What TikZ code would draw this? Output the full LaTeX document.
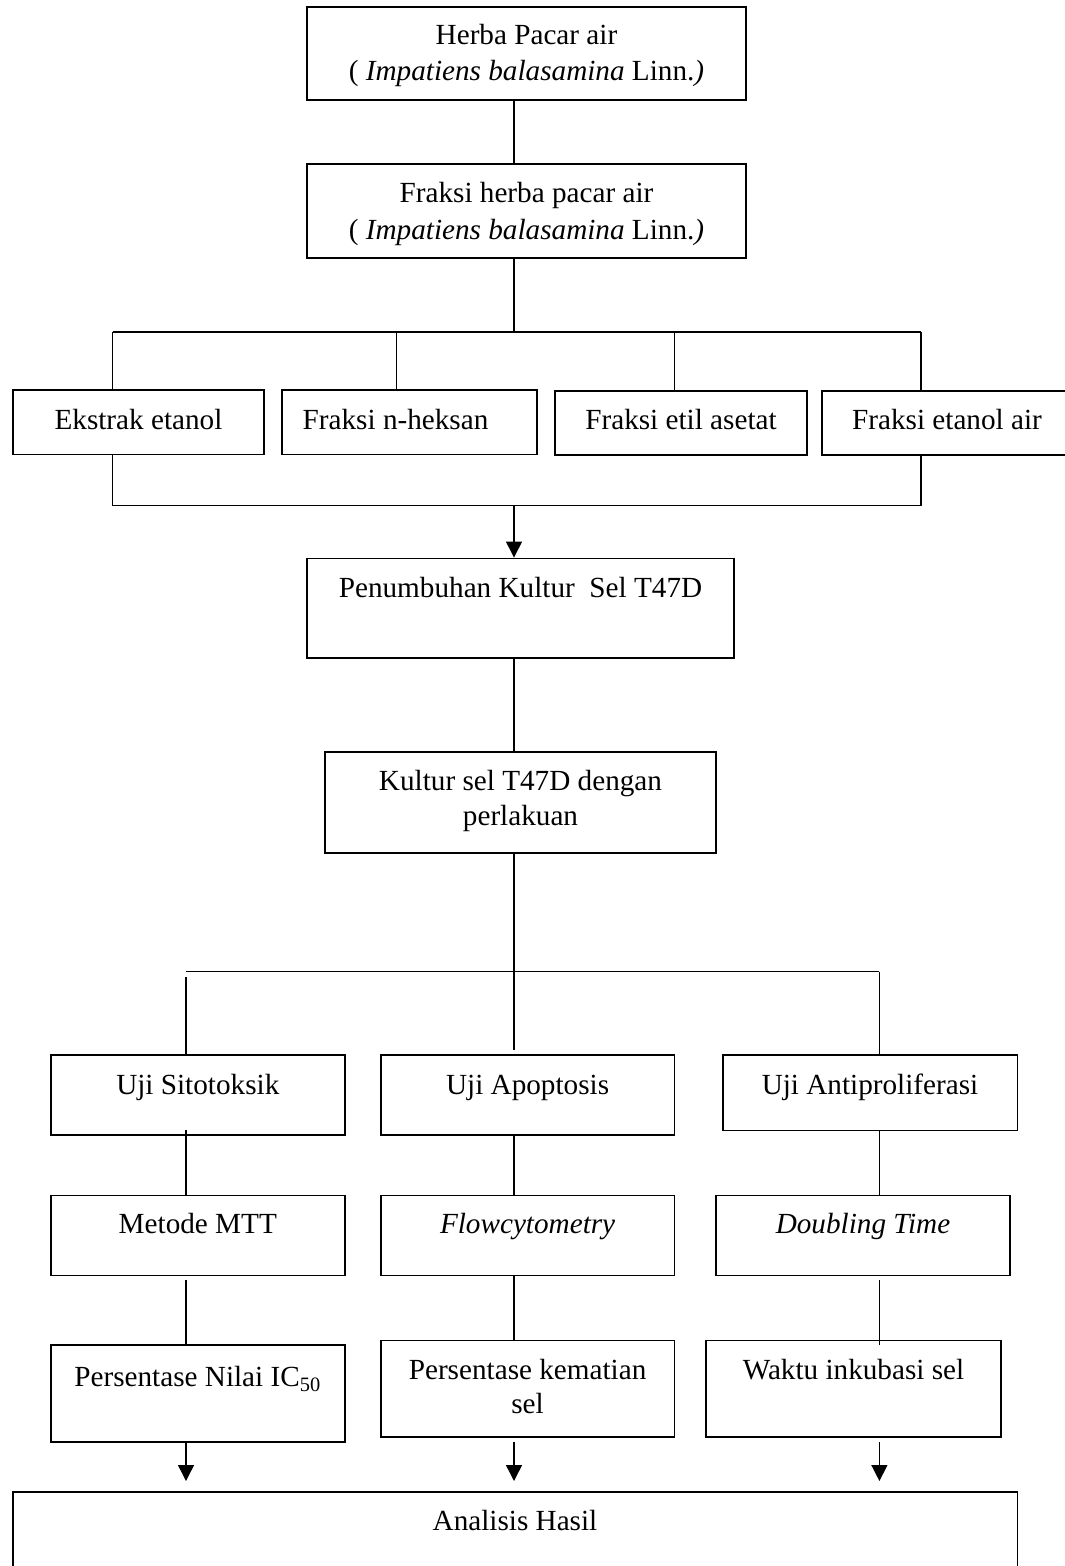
\documentclass[tikz,border=0pt]{standalone}
\usepackage{fontspec}
\setmainfont{Liberation Serif}
\usetikzlibrary{arrows.meta,fit}
\begin{document}
\begin{tikzpicture}[x=0.5pt,y=-0.5pt,
  box/.style={draw, line width=0.95pt, inner sep=0pt},
  lbl/.style={font=\fontsize{14.6}{18.3}\selectfont, inner sep=0pt, anchor=base, align=center},
  conn/.style={line width=0.7pt},
  arr/.style={conn, -{Triangle[length=8pt,width=8pt]}}]
\useasboundingbox (0,0) rectangle (1064,1566);
% boxes
\node[box, fit={(307.3,7.3) (745.7,100)}] (herba) {};
\node[box, fit={(307.3,164.3) (745.7,257.7)}] (fraksi) {};
\node[box, fit={(12.9,390) (264,454.5)}] (ek) {};
\node[box, fit={(282,390) (536.7,454.5)}] (hex) {};
\node[box, fit={(555,391) (806.8,455)}] (etil) {};
\node[box, fit={(821.7,391) (1075,455)}] (etair) {};
\node[box, fit={(307,558.5) (734,658.3)}] (tumbuh) {};
\node[box, fit={(325,752) (716,853)}] (kultur) {};
\node[box, fit={(50.9,1055) (344.7,1135)}] (sito) {};
\node[box, fit={(380.7,1055) (674.5,1135)}] (apop) {};
\node[box, fit={(723,1055) (1017.5,1130.5)}] (anti) {};
\node[box, fit={(50.9,1195.5) (344.7,1275.5)}] (mtt) {};
\node[box, fit={(380.7,1195.5) (674.5,1275.5)}] (flow) {};
\node[box, fit={(716,1195.5) (1010,1275.5)}] (dbl) {};
\node[box, fit={(50.9,1345) (344.7,1442)}] (ic) {};
\node[box, fit={(380.7,1340.5) (674.5,1437.3)}] (mati) {};
\node[box, fit={(706,1340.5) (1001,1437.3)}] (waktu) {};
\node[box, fit={(12.9,1492) (1017.5,1600)}] (anal) {};
% texts (multi-line nodes: base = baseline of last line)
\node[lbl] (herbaT) at (526.5,81) {Herba Pacar air\\( \textit{Impatiens balasamina} Linn.\textit{)}};
\node[lbl] (fraksiT) at (526.5,239.3) {Fraksi herba pacar air\\( \textit{Impatiens balasamina} Linn.\textit{)}};
\node[lbl] (ekT) at (138.5,429.3) {Ekstrak etanol};
\node[lbl, anchor=base west] (hexT) at (302.3,429.3) {Fraksi n-heksan};
\node[lbl] (etilT) at (681,429.3) {Fraksi etil asetat};
\node[lbl] (etairT) at (947,429.3) {Fraksi etanol air};
\node[lbl] (tumbuhT) at (520.5,597.3) {Penumbuhan Kultur\ \ Sel T47D};
\node[lbl] (kulturT) at (520.5,825) {Kultur sel T47D dengan\\[-1.2pt]perlakuan};
\node[lbl] (sitoT) at (197.8,1094) {Uji Sitotoksik};
\node[lbl] (apopT) at (527.6,1094) {Uji Apoptosis};
\node[lbl] (antiT) at (870,1094) {Uji Antiproliferasi};
\node[lbl] (mttT) at (197.8,1233.3) {Metode MTT};
\node[lbl] (flowT) at (527.6,1233.3) {\textit{Flowcytometry}};
\node[lbl] (dblT) at (863,1233.3) {\textit{Doubling Time}};
\node[lbl] (icT) at (197.8,1386.7) {Persentase Nilai IC\textsubscript{50}};
\node[lbl] (matiT) at (527.6,1413) {Persentase kematian\\[-1.5pt]sel};
\node[lbl] (waktuT) at (853.5,1379.3) {Waktu inkubasi sel};
\node[lbl] (analT) at (515,1530.7) {Analisis Hasil};
% junction coordinates
\coordinate (cx) at (514,332);
\coordinate (tA1) at (112.6,332);
\coordinate (tA2) at (396.3,332);
\coordinate (tA3) at (674.5,332);
\coordinate (tA4) at (920.8,332);
\coordinate (bA1) at (112.6,505.4);
\coordinate (bA4) at (920.8,505.4);
\coordinate (bAc) at (514,505.4);
\coordinate (cB) at (514,971.5);
\coordinate (bL) at (186,971.5);
\coordinate (bR) at (879.4,971.5);
\coordinate (bLs) at (186,977);
\coordinate (cBe) at (514,1049.6);
\coordinate (colL) at (186,0);
\coordinate (colC) at (514,0);
\coordinate (colR) at (879.4,0);
\coordinate (l1) at (186,1130);
\coordinate (l2) at (186,1280);
\coordinate (l3) at (186,1442);
\coordinate (c3) at (514,1442);
\coordinate (r2) at (879.4,1280);
\coordinate (r2e) at (879.4,1345);
\coordinate (r3) at (879.4,1442);
\coordinate (tipL) at (186,1481);
\coordinate (tipC) at (514,1481);
\coordinate (tipR) at (879.4,1481);
% connectors top
\draw[conn] (cx |- herba.south) -- (cx |- fraksi.north);
\draw[conn] (cx |- fraksi.south) -- (cx);
\draw[conn] (tA1) -- (tA4);
\draw[conn] (tA1) -- (tA1 |- ek.north);
\draw[conn] (tA2) -- (tA2 |- hex.north);
\draw[conn] (tA3) -- (tA3 |- etil.north);
\draw[conn] (tA4) -- (tA4 |- etair.north);
\draw[conn] (tA1 |- ek.south) -- (bA1) -- (bA4) -- (tA4 |- etair.south);
\draw[arr] (bAc) -- (cx |- tumbuh.north);
\draw[conn] (cx |- tumbuh.south) -- (cx |- kultur.north);
\draw[conn] (cx |- kultur.south) -- (cB);
\draw[conn] (bL) -- (bR);
\draw[conn] (bLs) -- (colL |- sito.north);
\draw[conn] (cB) -- (cBe);
\draw[conn] (bR) -- (colR |- anti.north);
% columns
\draw[conn] (l1) -- (colL |- mtt.north);
\draw[conn] (l2) -- (colL |- ic.north);
\draw[arr] (l3) -- (tipL);
\draw[conn] (colC |- apop.south) -- (colC |- flow.north);
\draw[conn] (colC |- flow.south) -- (colC |- mati.north);
\draw[arr] (c3) -- (tipC);
\draw[conn] (colR |- anti.south) -- (colR |- dbl.north);
\draw[conn] (r2) -- (r2e);
\draw[arr] (r3) -- (tipR);
\end{tikzpicture}
\end{document}
